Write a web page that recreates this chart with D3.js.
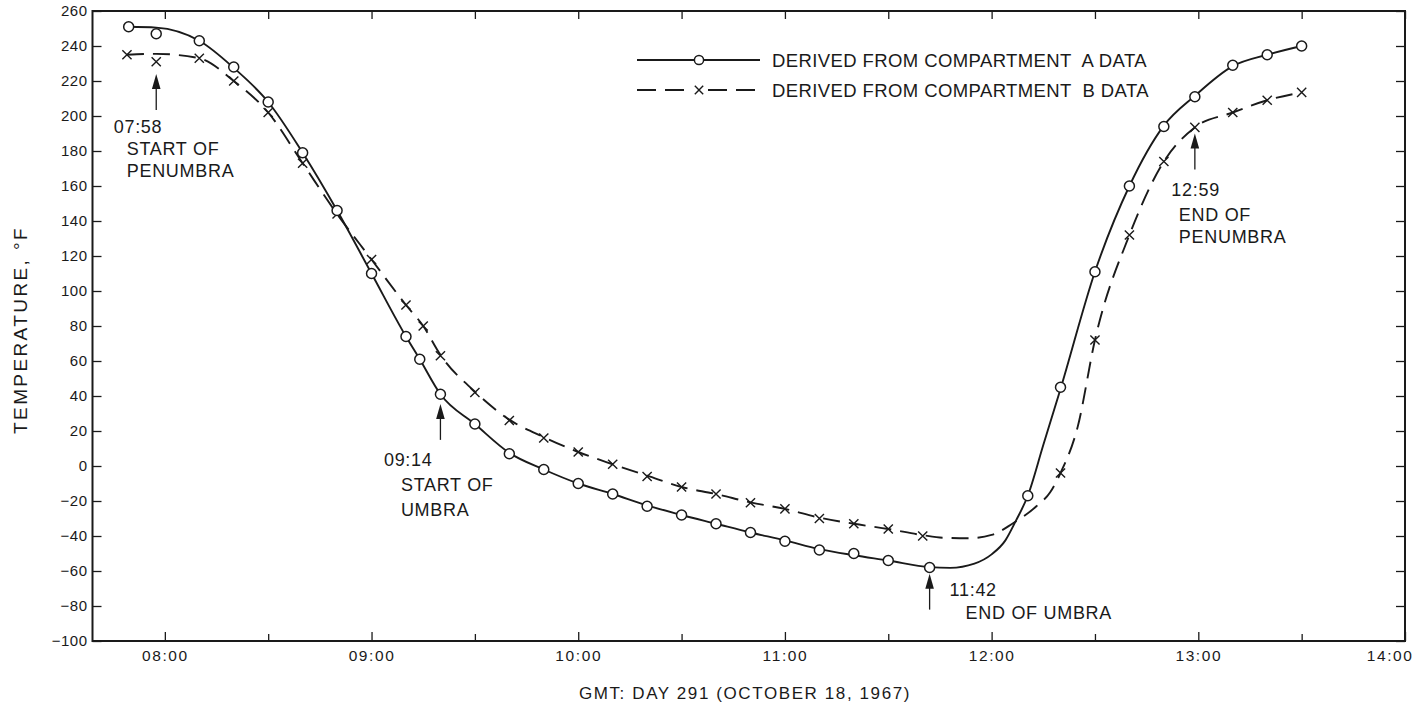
<!DOCTYPE html>
<html>
<head>
<meta charset="utf-8">
<script src="https://cdn.jsdelivr.net/npm/d3@7/dist/d3.min.js"></script>
<style>
  html, body { margin: 0; padding: 0; background: #fff; }
  svg { display: block; font-family: "Liberation Sans", Arial, sans-serif; }
  text { fill: #1a1a1a; }
</style>
</head>
<body>
<svg id="chart" width="1415" height="708"></svg>
<script>
// ---------- DATA ----------
// Compartment A (circles)
const timesA  = ["07:49.5","07:57.5","08:10","08:20","08:30","08:40","08:50","09:00","09:10","09:14","09:20","09:30","09:40","09:50","10:00","10:10","10:20","10:30","10:40","10:50","11:00","11:10","11:20","11:30","11:42","12:10.5","12:20","12:30","12:40","12:50","12:59","13:10","13:20","13:30"];
const valuesA = [251,247,243,228,208,179,146,110,74,61,41,24,7,-2,-10,-16,-23,-28,-33,-38,-43,-48,-50,-54,-58,-17,45,111,160,194,211,229,235,240];
// Compartment B (crosses)
const timesB  = ["07:49","07:57.5","08:10","08:20","08:30","08:40","08:50","09:00","09:10","09:15","09:20","09:30","09:40","09:50","10:00","10:10","10:20","10:30","10:40","10:50","11:00","11:10","11:20","11:30","11:40","12:20","12:30","12:40","12:50","12:59","13:10","13:20","13:30"];
const valuesB = [235,231,233,220,202,173,144,118,92,80,63,42,26,16,8,1,-6,-12,-16,-21,-24.5,-30,-33,-36,-40,-4,72,132,174,193.5,202,209,213.5];
// Faired curves as drawn through the points
const curveTimesA  = ["07:49.5","07:57.5","08:10","08:20","08:30","08:40","08:50","09:00","09:10","09:14","09:20","09:30","09:40","09:50","10:00","10:10","10:20","10:30","10:40","10:50","11:00","11:10","11:20","11:30","11:42","11:48","11:55","12:00","12:04","12:07","12:10.5","12:15","12:20","12:30","12:40","12:50","12:59","13:10","13:20","13:30"];
const curveValuesA = [251,250.5,243,227.5,208,179,146,110,74,61,41,24,7.5,-2,-10,-16,-22.5,-28,-33,-38,-42.5,-47.5,-51,-54,-57.8,-58.2,-55.8,-50.5,-42.5,-31.5,-17,12,44,111,160,194.5,211.5,228.5,235,240];
const curveTimesB  = ["07:49","07:57.5","08:10","08:20","08:30","08:40","08:50","09:00","09:10","09:15","09:20","09:30","09:40","09:50","10:00","10:10","10:20","10:30","10:40","10:50","11:00","11:10","11:20","11:30","11:40","11:46","11:53","12:00","12:06","12:13","12:17","12:20","12:25","12:30","12:40","12:50","12:59","13:10","13:20","13:30"];
const curveValuesB = [235,235.5,233,220,202,173,144,118,92,80,63.5,42.5,26.5,16.5,8,1,-5.5,-12,-16,-20.8,-24.5,-29.5,-33,-36,-39.5,-41,-41.3,-39.4,-33,-23,-15,-4,22.5,72,132,174,193.5,202,209,213.5];

// Axes
const xDomain       = ["07:39","14:00"];
const xHourTicks    = ["08:00","09:00","10:00","11:00","12:00","13:00","14:00"];
const xHalfTicks    = ["08:30","09:30","10:30","11:30","12:30","13:30"];
const yDomain       = [-100, 260];
const yTicks        = [-100,-80,-60,-40,-20,0,20,40,60,80,100,120,140,160,180,200,220,240,260];
const xTitle = "GMT: DAY 291 (OCTOBER 18, 1967)";
const yTitle = "TEMPERATURE, °F";
const legendLabels = ["DERIVED FROM COMPARTMENT  A DATA", "DERIVED FROM COMPARTMENT  B DATA"];

// Event annotations
const eventTimes  = ["07:57.5","09:20","11:42","12:59"];
const eventTipValues = [224, 35.5, -61.5, 190];
const eventLabels = [["07:58","START OF","PENUMBRA"],["09:14","START OF","UMBRA"],["11:42","END OF UMBRA"],["12:59","END OF","PENUMBRA"]];

// ---------- DRAWING ----------
const parseT = s => { const [h, m] = s.split(":").map(Number); return h * 60 + m; };
const svg = d3.select("#chart");
const L = 92.5, R = 1405, T = 11, B = 641;
const ink = "#1a1a1a";

const x = d3.scaleLinear().domain(xDomain.map(parseT)).range([L, R]);
const y = d3.scaleLinear().domain(yDomain).range([B, T]);

// frame
svg.append("rect").attr("x", L).attr("y", T).attr("width", R - L).attr("height", B - T)
  .attr("fill", "none").attr("stroke", ink).attr("stroke-width", 2);

const styleAxis = g => { g.select(".domain").remove(); g.selectAll("line").attr("stroke", ink).attr("stroke-width", 1.3); };

// bottom axis with labels
const gBottom = svg.append("g").attr("transform", `translate(0,${B})`)
  .call(d3.axisBottom(x).tickValues(xHourTicks.map(parseT)).tickSize(-9).tickPadding(9)
    .tickFormat((d, i) => xHourTicks[i]))
  .call(styleAxis);
gBottom.selectAll("text").attr("font-size", 15.5).attr("letter-spacing", 1.6)
  .attr("font-family", "Liberation Sans, Arial, sans-serif").attr("fill", ink);
gBottom.selectAll(".tick").filter((d, i) => i === xHourTicks.length - 1)
  .select("text").attr("text-anchor", "end").attr("dx", 8);

svg.append("g").attr("transform", `translate(0,${B})`)
  .call(d3.axisBottom(x).tickValues(xHalfTicks.map(parseT)).tickSize(-7).tickFormat(""))
  .call(styleAxis);
// top ticks
svg.append("g").attr("transform", `translate(0,${T})`)
  .call(d3.axisTop(x).tickValues(xHourTicks.concat(xHalfTicks).map(parseT)).tickSize(-8).tickFormat(""))
  .call(styleAxis);

// left axis
const gLeft = svg.append("g").attr("transform", `translate(${L},0)`)
  .call(d3.axisLeft(y).tickValues(yTicks).tickSize(-9).tickPadding(5)
    .tickFormat(d => d < 0 ? "−" + Math.abs(d) : String(d)))
  .call(styleAxis);
gLeft.selectAll("text").attr("font-size", 15).attr("letter-spacing", 0.5)
  .attr("font-family", "Liberation Sans, Arial, sans-serif").attr("fill", ink);
// right ticks
svg.append("g").attr("transform", `translate(${R},0)`)
  .call(d3.axisRight(y).tickValues(yTicks).tickSize(-9).tickFormat(""))
  .call(styleAxis);

// axis titles
svg.append("text").attr("x", 745).attr("y", 699).attr("text-anchor", "middle")
  .attr("font-size", 17).attr("letter-spacing", 1.6).text(xTitle);
svg.append("text").attr("transform", `translate(27,${(T + B) / 2 + 4}) rotate(-90)`).attr("text-anchor", "middle")
  .attr("font-size", 19).attr("letter-spacing", 2.4).text(yTitle);

// curves
const lineGen = d3.line().x(d => x(d[0])).y(d => y(d[1])).curve(d3.curveMonotoneX);
const curveA = curveTimesA.map((t, i) => [parseT(t), curveValuesA[i]]);
const curveB = curveTimesB.map((t, i) => [parseT(t), curveValuesB[i]]);
svg.append("path").datum(curveB).attr("d", lineGen).attr("fill", "none")
  .attr("stroke", ink).attr("stroke-width", 1.9).attr("stroke-dasharray", "17,9");
svg.append("path").datum(curveA).attr("d", lineGen).attr("fill", "none")
  .attr("stroke", ink).attr("stroke-width", 1.9);

// markers
const cross = (g, cx, cy, s) => {
  g.append("path").attr("d", `M${cx - s},${cy - s}L${cx + s},${cy + s}M${cx - s},${cy + s}L${cx + s},${cy - s}`)
    .attr("stroke", ink).attr("stroke-width", 1.4).attr("fill", "none");
};
const gB = svg.append("g");
timesB.forEach((t, i) => cross(gB, x(parseT(t)), y(valuesB[i]), 4.6));
svg.append("g").selectAll("circle").data(timesA.map((t, i) => [parseT(t), valuesA[i]])).join("circle")
  .attr("cx", d => x(d[0])).attr("cy", d => y(d[1])).attr("r", 5)
  .attr("fill", "#fff").attr("stroke", ink).attr("stroke-width", 1.5);

// legend
const lgX0 = 637, lgX1 = 760, lgMid = 699, lgTextX = 772;
const lgY = [60, 90];
svg.append("line").attr("x1", lgX0).attr("x2", lgX1).attr("y1", lgY[0]).attr("y2", lgY[0])
  .attr("stroke", ink).attr("stroke-width", 1.9);
svg.append("circle").attr("cx", lgMid).attr("cy", lgY[0]).attr("r", 4.6)
  .attr("fill", "#fff").attr("stroke", ink).attr("stroke-width", 1.5);
svg.append("path").attr("d", `M${lgX0},${lgY[1]}H${lgMid - 9}M${lgMid + 9},${lgY[1]}H${lgX1}`)
  .attr("stroke", ink).attr("stroke-width", 1.9).attr("stroke-dasharray", "19,9");
cross(svg, lgMid, lgY[1], 4.2);
legendLabels.forEach((s, i) => {
  svg.append("text").attr("x", lgTextX).attr("y", lgY[i] + 7).attr("font-size", 18.5)
    .attr("letter-spacing", 0.4).attr("xml:space", "preserve").style("white-space", "pre").text(s);
});

// annotations: [dx,dy] of each text line relative to the arrow tip
const eventLayout = [
  [[-42.5, 59], [-29.5, 80.5], [-29.5, 103]],
  [[-56.5, 62], [-39.5, 87], [-39.5, 112]],
  [[20, 22], [36, 45.5]],
  [[-23.5, 62], [-16, 87], [-16, 109]]
];
eventTimes.forEach((t, i) => {
  const ax = x(parseT(t)), ay = y(eventTipValues[i]);
  svg.append("line").attr("x1", ax).attr("x2", ax).attr("y1", ay + 12).attr("y2", ay + 36)
    .attr("stroke", ink).attr("stroke-width", 1.3);
  svg.append("path").attr("d", `M${ax},${ay}L${ax + 4.3},${ay + 15}L${ax - 4.3},${ay + 15}Z`).attr("fill", ink);
  eventLabels[i].forEach((s, j) => {
    svg.append("text").attr("x", ax + eventLayout[i][j][0]).attr("y", ay + eventLayout[i][j][1])
      .attr("font-size", 18).attr("letter-spacing", 0.7).text(s);
  });
});
</script>
</body>
</html>
